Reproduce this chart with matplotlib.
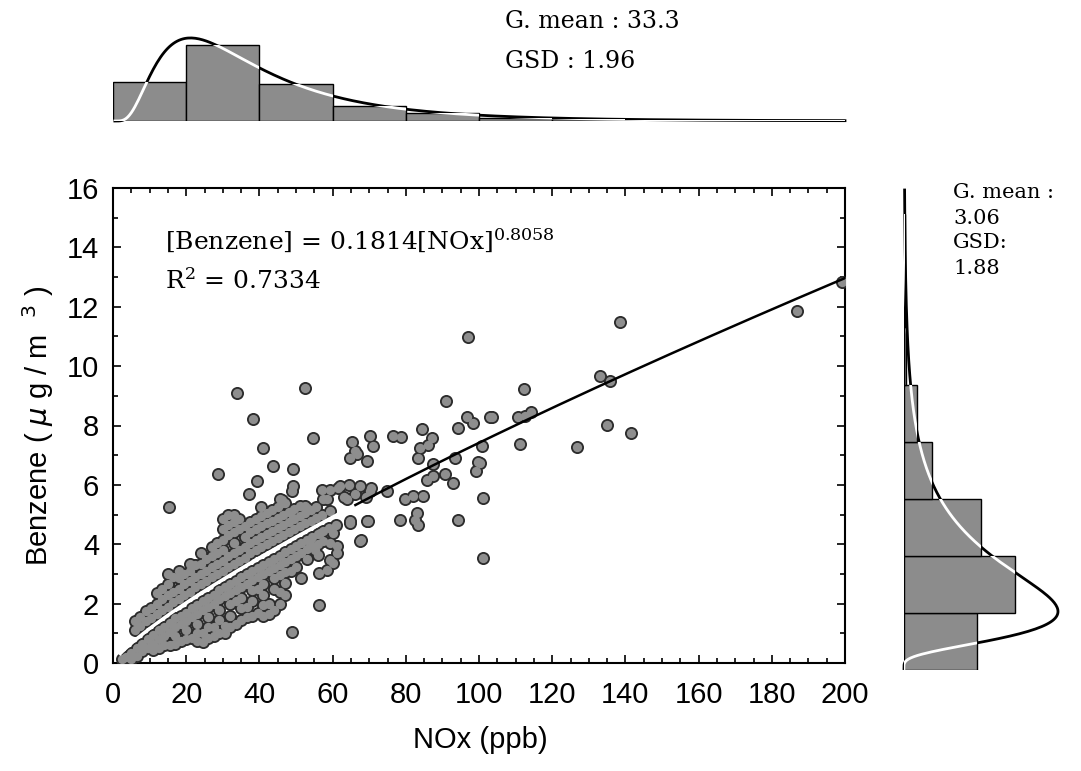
import matplotlib
matplotlib.use('Agg')
import matplotlib.pyplot as plt
from matplotlib.ticker import MultipleLocator
from matplotlib.path import Path
from matplotlib.patches import PathPatch
import numpy as np

# fit and distribution parameters (as printed on the chart)
fit_a, fit_b = 0.1814, 0.8058
nox_gm, nox_gsd = 33.3, 1.96
bz_gm, bz_gsd = 3.06, 1.88

# histogram of NOx, 20 ppb bins, % of samples
nox_bin_w = 20
nox_freq = [21.0, 41.0, 20.0, 8.0, 4.3, 1.7, 1.1, 0.8, 0.5, 0.4,
            0.3, 0.2, 0.2, 0.1, 0.1, 0.1, 0.05, 0.05, 0.05, 0.05]

# histogram of benzene, 2 ug/m3 bins, % of samples
bz_bin_w = 2
bz_freq = [23.9, 36.3, 25.2, 9.2, 4.3, 0.6, 0.3, 0.2]

# dense cloud below the fit line: (NOx, [benzene values at that NOx])
lower_cols = [
    (2.5, [0.15]), (3.5, [0.2]), (5, [0.35, 0.15]), (6.5, [0.5, 0.25]), (8, [0.65, 0.4]),
    (9.5, [0.8, 0.5]), (11, [0.95, 0.65, 0.45]), (12.5, [1.1, 0.8, 0.5]),
    (14, [1.2, 0.9, 0.6]), (15.5, [1.35, 1.05, 0.6]), (17, [1.5, 1.2, 0.9, 0.65]),
    (18.5, [1.6, 1.3, 0.75]), (20, [1.7, 1.4, 1.1, 0.8]), (21.5, [1.85, 1.55, 0.85]),
    (23, [1.95, 1.65, 1.3, 1.0, 0.75]), (24.5, [2.1, 1.8, 1.0, 0.7]),
    (26, [2.2, 1.9, 1.55, 1.2, 0.85]), (27.5, [2.3, 2.0, 1.2, 0.9]),
    (29, [2.45, 2.15, 1.8, 1.45, 1.0]), (30.5, [2.55, 2.25, 1.25, 1.0]),
    (32, [2.65, 2.35, 2.0, 1.6, 1.2]), (33.5, [2.75, 2.45, 2.1, 1.3]),
    (35, [2.9, 2.55, 2.2, 1.85, 1.45]), (36.5, [3.0, 2.65, 1.9, 1.55]),
    (38, [3.1, 2.8, 2.45, 2.1, 1.6]), (39.5, [3.2, 2.9, 2.5, 1.7]),
    (41, [3.3, 3.0, 2.65, 2.3, 1.95, 1.6]), (42.5, [3.4, 3.1, 2.0, 1.65]),
    (44, [3.5, 3.2, 2.85, 2.5, 1.8]), (45.5, [3.6, 3.3, 2.95, 2.4, 2.0]),
    (47, [3.75, 3.4, 3.05, 2.7, 2.3]), (48.5, [3.85, 3.5, 3.1]), (50, [3.95, 3.6, 3.25]),
    (51.5, [4.05, 3.7]), (53, [4.15, 3.85, 3.5]), (54.5, [4.25, 3.95]),
    (56, [4.35, 4.0, 3.65]), (57.5, [4.45, 4.1]), (59, [4.55]), (61, [4.65]),
]
# dense cloud above the fit line
upper_cols = [
    (6, [1.1, 1.4]), (7.5, [1.25, 1.55]), (9, [1.4, 1.75]), (10.5, [1.5, 1.85]),
    (12, [1.65, 2.0, 2.35]), (13.5, [1.8, 2.15, 2.5]), (15, [1.9, 2.3, 2.65, 3.0]),
    (16.5, [2.05, 2.4, 2.9]), (18, [2.15, 2.5, 2.85, 3.1]), (19.5, [2.3, 2.65, 3.0]),
    (21, [2.4, 2.75, 3.1, 3.35]), (22.5, [2.55, 2.9, 3.3]), (24, [2.65, 3.0, 3.35, 3.7]),
    (25.5, [2.75, 3.1, 3.5]), (27, [2.9, 3.25, 3.6, 3.9]), (28.5, [3.0, 3.35, 3.7, 4.05]),
    (30, [3.1, 3.45, 3.8, 4.15, 4.5, 4.85]), (31.5, [3.25, 3.6, 4.3, 4.65, 5.0]),
    (33, [3.35, 3.7, 4.05, 4.4, 4.75, 5.0]), (34.5, [3.45, 3.8, 4.5, 4.85]),
    (36, [3.55, 3.9, 4.25, 4.6]), (37.5, [3.7, 4.05, 4.4, 4.75]),
    (39, [3.8, 4.15, 4.5, 4.85]), (40.5, [3.9, 4.25, 4.6, 4.95, 5.25]),
    (42, [4.0, 4.35, 4.7, 5.05]), (43.5, [4.1, 4.45, 4.8, 5.15]),
    (45, [4.2, 4.55, 4.9, 5.25]), (46.5, [4.3, 4.65, 5.0, 5.4]), (48, [4.4, 4.75, 5.1]),
    (49.5, [4.5, 4.85, 5.2]), (51, [4.6, 4.95, 5.3]), (52.5, [4.7, 5.05]),
    (54, [4.8, 5.15]), (55.5, [4.9, 5.25]), (57, [5.0]),
]
# scattered points around the cloud (NOx, benzene)
mid_points = [
    (15.3, 5.24), (33.8, 9.08), (38.2, 8.23), (52.5, 9.27), (54.7, 7.59), (40.9, 7.25),
    (43.8, 6.63), (49.1, 6.52), (28.6, 6.35), (39.3, 6.13), (37.2, 5.68), (49.0, 1.06),
    (56.3, 1.96), (51.3, 2.86), (56.3, 3.03), (67.7, 4.13), (69.3, 4.77), (74.8, 5.81),
    (64.8, 4.77), (59.3, 5.11), (65.2, 7.44), (66.1, 7.14), (64.8, 6.92), (70.2, 7.65),
    (71.1, 7.31), (69.3, 6.80), (76.6, 7.65), (78.8, 7.62), (84.3, 7.87), (83.9, 7.25),
    (87.1, 7.59), (86.1, 7.36), (83.4, 6.92), (87.5, 6.69), (90.7, 6.35), (79.8, 5.51),
    (82.1, 5.62), (84.8, 5.62), (78.4, 4.83), (82.5, 4.83), (83.4, 4.66), (83.0, 5.06),
    (85.7, 6.18), (87.5, 6.30), (57.0, 5.84), (57.5, 5.51), (59.3, 5.84), (61.5, 5.90),
    (62.0, 5.96), (63.0, 5.60), (63.9, 5.51), (64.5, 6.00), (66.0, 5.70), (67.5, 5.95),
    (69.0, 5.60), (70.2, 5.79), (70.5, 5.90), (58.4, 5.51), (49.3, 5.96), (48.8, 5.79),
    (49.3, 4.89), (47.0, 5.40), (45.6, 5.51), (60.2, 4.38), (61.1, 3.94), (59.3, 3.48),
    (58.4, 3.14), (53.8, 4.16), (55.2, 3.82), (52.5, 5.28), (64.8, 4.72), (69.8, 4.78),
    (67.5, 4.10), (56.6, 4.38), (59.3, 4.05), (61.1, 3.70), (60.1, 3.37), (66.6, 7.03),
    (46.1, 5.50), (52.9, 5.22),
]
high_points = [
    (96.9, 10.97), (90.9, 8.83), (103.0, 8.30), (94.3, 7.93), (96.6, 8.28), (98.4, 8.10),
    (101.2, 3.54), (94.2, 4.81), (101.2, 5.56), (93.0, 6.05), (100.3, 6.75), (99.3, 6.46),
    (93.5, 6.90), (138.5, 11.48), (199.1, 12.85), (187.0, 11.87), (133.1, 9.67), (135.8, 9.50),
    (112.4, 9.22), (103.5, 8.29), (110.7, 8.27), (112.6, 8.32), (114.1, 8.47), (100.7, 7.31),
    (111.2, 7.38), (135.1, 8.02), (141.4, 7.76), (126.7, 7.28), (99.6, 6.78),
]


def lognorm_pdf(v, gm, gsd):
    mu, s = np.log(gm), np.log(gsd)
    return np.exp(-(np.log(v) - mu) ** 2 / (2 * s * s)) / (v * s * np.sqrt(2 * np.pi))


def bar_clip(edges, freq, horizontal=False):
    # union of the bar rectangles, used to turn the curve white inside the bars
    paths = []
    w = edges[1] - edges[0]
    for lo, h in zip(edges, freq):
        if horizontal:
            verts = [(0, lo), (h, lo), (h, lo + w), (0, lo + w), (0, lo)]
        else:
            verts = [(lo, 0), (lo + w, 0), (lo + w, h), (lo, h), (lo, 0)]
        paths.append(Path(verts, closed=True))
    return Path.make_compound_path(*paths)


cloud = [(x, y) for x, ys in lower_cols + upper_cols for y in ys]
pts = np.array(cloud + mid_points + high_points)

W, H = 1081, 771
fig = plt.figure(figsize=(W / 100, H / 100), dpi=100)
serif = 'DejaVu Serif'
sans = ['Liberation Sans', 'DejaVu Sans']

# main scatter
ax = fig.add_axes([113 / W, 1 - 663 / H, 732 / W, 475 / H])
ax.scatter(pts[:, 0], pts[:, 1], s=88, color='#2b2b2b', linewidths=0, zorder=3)
ax.scatter(pts[:, 0], pts[:, 1], s=45, color='#8e8e8e', linewidths=0, zorder=4)

xf = np.linspace(2, 200, 300)
yf = fit_a * xf ** fit_b
ax.plot(xf[xf < 66], yf[xf < 66], color='white', lw=2.4, zorder=5)
ax.plot(xf[xf >= 66], yf[xf >= 66], color='black', lw=1.8, zorder=5)

ax.set_xlim(0, 200)
ax.set_ylim(0, 16)
ax.xaxis.set_major_locator(MultipleLocator(20))
ax.xaxis.set_minor_locator(MultipleLocator(5))
ax.yaxis.set_major_locator(MultipleLocator(2))
ax.yaxis.set_minor_locator(MultipleLocator(1))
ax.tick_params(which='both', direction='in', top=True, right=True, width=1.2)
ax.tick_params(which='major', length=6, labelsize=21)
ax.tick_params(axis='x', which='major', pad=13)
ax.tick_params(axis='y', which='major', pad=10)
ax.tick_params(which='minor', length=3.5)
for lab in ax.get_xticklabels() + ax.get_yticklabels():
    lab.set_family(sans)
for sp in ax.spines.values():
    sp.set_linewidth(1.5)

ax.set_xlabel('NOx (ppb)', fontsize=21, family=sans)
ax.xaxis.set_label_coords(0.502, -0.162)
ax.xaxis.label.set_va('center')
ax.set_ylabel(r'Benzene ( $\mu$ g / m  $^{3}$ )', fontsize=21, family=sans)
ax.yaxis.set_label_coords(-0.103, 0.5)
ax.yaxis.label.set_va('center')

ax.text(14.2, 14.2, r'[Benzene] = 0.1814[NOx]$^{0.8058}$', fontsize=18,
        family=serif, math_fontfamily='dejavuserif', va='center')
ax.text(14.2, 12.85, r'R$^{2}$ = 0.7334', fontsize=18,
        family=serif, math_fontfamily='dejavuserif', va='center')

# top histogram (NOx)
axt = fig.add_axes([113 / W, 1 - 121 / H, 732 / W, 93 / H])
nox_edges = np.arange(len(nox_freq)) * nox_bin_w
axt.bar(nox_edges, nox_freq, width=nox_bin_w, align='edge', color='#8c8c8c',
        edgecolor='black', linewidth=1, zorder=2)
xc = np.linspace(0.5, 200, 400)
yc = sum(nox_freq) * nox_bin_w * lognorm_pdf(xc, nox_gm, nox_gsd)
axt.plot(xc, yc, color='black', lw=2, zorder=1, clip_on=False)
wl, = axt.plot(xc, yc, color='white', lw=2, zorder=3)
wl.set_clip_path(PathPatch(bar_clip(nox_edges, nox_freq), transform=axt.transData))
axt.set_xlim(0, 200)
axt.set_ylim(0, 50)
axt.axis('off')

# right histogram (benzene)
axr = fig.add_axes([904 / W, 1 - 670 / H, 168 / W, 480 / H])
bz_edges = np.arange(len(bz_freq)) * bz_bin_w
axr.barh(bz_edges, bz_freq, height=bz_bin_w, align='edge', color='#8c8c8c',
         edgecolor='black', linewidth=1, zorder=2)
yb = np.linspace(0.05, 16.85, 400)
xb = sum(bz_freq) * bz_bin_w * lognorm_pdf(yb, bz_gm, bz_gsd)
axr.plot(xb, yb, color='black', lw=2, zorder=1, clip_on=False)
wr, = axr.plot(xb, yb, color='white', lw=2, zorder=3)
wr.set_clip_path(PathPatch(bar_clip(bz_edges, bz_freq, horizontal=True), transform=axr.transData))
axr.set_xlim(0, 55)
axr.set_ylim(0, 16.85)
axr.axis('off')

fig.text(505 / W, 1 - 22 / H, 'G. mean : 33.3', fontsize=17, family=serif, va='center')
fig.text(505 / W, 1 - 62 / H, 'GSD : 1.96', fontsize=17, family=serif, va='center')
for i, s in enumerate(['G. mean :', '3.06', 'GSD:', '1.88']):
    fig.text(953 / W, 1 - (193 + 25 * i) / H, s, fontsize=15, family=serif, va='center')

fig.savefig('out.png', dpi=100)
